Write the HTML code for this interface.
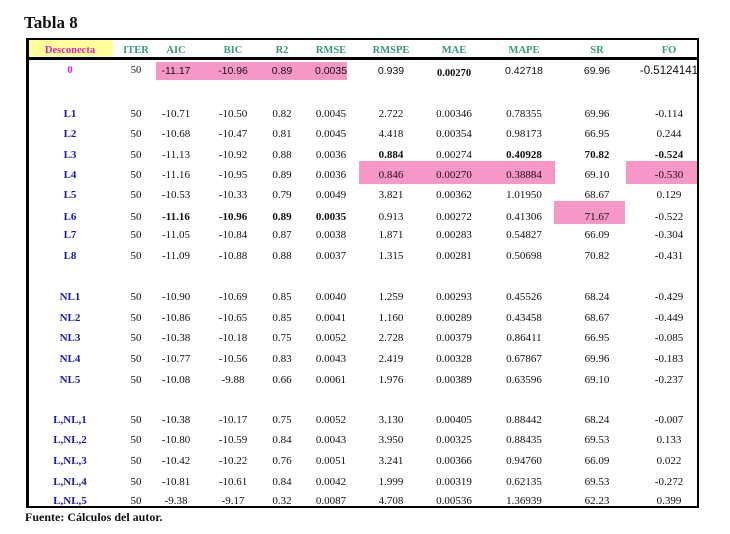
<!DOCTYPE html>
<html><head><meta charset="utf-8"><style>
body{margin:0;background:#fff;width:730px;height:534px;position:relative;overflow:hidden;font-family:"Liberation Serif",serif;font-size:11px;color:#111}
.a{position:absolute}
.r{position:absolute;left:0;width:730px;height:14px;line-height:14px}
.r span{position:absolute;width:80px;text-align:center}
.c0{left:30px;color:#1a1ab0;font-weight:bold}
.c1{left:96px}.c2{left:136px}.c3{left:193px}.c4{left:242px}.c5{left:291px}.c6{left:351px}.c7{left:414px}.c8{left:484px}.c9{left:557px}.c10{left:629px}
.b{font-weight:bold}
.pk{position:absolute;background:#f598c8}
.h span{color:#3a9a7a;font-weight:bold;font-size:10.5px}
</style></head><body>
<div class="a" style="left:24px;top:13px;font-size:17px;font-weight:bold;">Tabla 8</div>
<div class="a" style="left:29px;top:40px;width:84px;height:17px;background:#ffff99"></div>
<div class="a" style="left:26px;top:38px;width:673px;height:2px;background:#000"></div>
<div class="a" style="left:26px;top:57px;width:673px;height:3px;background:#000"></div>
<div class="a" style="left:26px;top:38px;width:3px;height:470px;background:#000"></div>
<div class="a" style="left:697px;top:38px;width:2px;height:470px;background:#000"></div>
<div class="a" style="left:26px;top:506px;width:673px;height:2px;background:#000"></div>
<div class="pk" style="left:156px;top:62px;width:191px;height:18px"></div>
<div class="pk" style="left:359px;top:161px;width:196px;height:23px"></div>
<div class="pk" style="left:626px;top:161px;width:71px;height:23px"></div>
<div class="pk" style="left:554px;top:201px;width:71px;height:23px"></div>
<div class="r h" style="top:44px"><span class="c0" style="color:#e020c0">Desconecta</span><span class="c1">ITER</span><span class="c2">AIC</span><span class="c3">BIC</span><span class="c4">R2</span><span class="c5">RMSE</span><span class="c6">RMSPE</span><span class="c7">MAE</span><span class="c8">MAPE</span><span class="c9">SR</span><span class="c10">FO</span></div>
<div class="r" style="top:64px;font-family:'Liberation Sans',sans-serif;font-size:10.5px"><span class="c0" style="color:#e020c0;font-family:'Liberation Serif',serif">0</span><span class="c1" style="font-family:'Liberation Serif',serif">50</span><span class="c2">-11.17</span><span class="c3">-10.96</span><span class="c4">0.89</span><span class="c5">0.0035</span><span class="c6">0.939</span><span class="c7 b" style="top:3px;font-family:'Liberation Serif',serif">0.00270</span><span class="c8">0.42718</span><span class="c9">69.96</span><span class="c10" style="font-size:11.5px">-0.5124141</span></div>
<div class="r" style="top:107px"><span class="c0">L1</span><span class="c1">50</span><span class="c2">-10.71</span><span class="c3">-10.50</span><span class="c4">0.82</span><span class="c5">0.0045</span><span class="c6">2.722</span><span class="c7">0.00346</span><span class="c8">0.78355</span><span class="c9">69.96</span><span class="c10">-0.114</span></div>
<div class="r" style="top:127px"><span class="c0">L2</span><span class="c1">50</span><span class="c2">-10.68</span><span class="c3">-10.47</span><span class="c4">0.81</span><span class="c5">0.0045</span><span class="c6">4.418</span><span class="c7">0.00354</span><span class="c8">0.98173</span><span class="c9">66.95</span><span class="c10">0.244</span></div>
<div class="r" style="top:148px"><span class="c0">L3</span><span class="c1">50</span><span class="c2">-11.13</span><span class="c3">-10.92</span><span class="c4">0.88</span><span class="c5">0.0036</span><span class="c6 b">0.884</span><span class="c7">0.00274</span><span class="c8 b">0.40928</span><span class="c9 b">70.82</span><span class="c10 b">-0.524</span></div>
<div class="r" style="top:168px"><span class="c0">L4</span><span class="c1">50</span><span class="c2">-11.16</span><span class="c3">-10.95</span><span class="c4">0.89</span><span class="c5">0.0036</span><span class="c6">0.846</span><span class="c7">0.00270</span><span class="c8">0.38884</span><span class="c9">69.10</span><span class="c10">-0.530</span></div>
<div class="r" style="top:188px"><span class="c0">L5</span><span class="c1">50</span><span class="c2">-10.53</span><span class="c3">-10.33</span><span class="c4">0.79</span><span class="c5">0.0049</span><span class="c6">3.821</span><span class="c7">0.00362</span><span class="c8">1.01950</span><span class="c9">68.67</span><span class="c10">0.129</span></div>
<div class="r" style="top:210px"><span class="c0">L6</span><span class="c1">50</span><span class="c2 b">-11.16</span><span class="c3 b">-10.96</span><span class="c4 b">0.89</span><span class="c5 b">0.0035</span><span class="c6">0.913</span><span class="c7">0.00272</span><span class="c8">0.41306</span><span class="c9">71.67</span><span class="c10">-0.522</span></div>
<div class="r" style="top:228px"><span class="c0">L7</span><span class="c1">50</span><span class="c2">-11.05</span><span class="c3">-10.84</span><span class="c4">0.87</span><span class="c5">0.0038</span><span class="c6">1.871</span><span class="c7">0.00283</span><span class="c8">0.54827</span><span class="c9">66.09</span><span class="c10">-0.304</span></div>
<div class="r" style="top:249px"><span class="c0">L8</span><span class="c1">50</span><span class="c2">-11.09</span><span class="c3">-10.88</span><span class="c4">0.88</span><span class="c5">0.0037</span><span class="c6">1.315</span><span class="c7">0.00281</span><span class="c8">0.50698</span><span class="c9">70.82</span><span class="c10">-0.431</span></div>
<div class="r" style="top:290px"><span class="c0">NL1</span><span class="c1">50</span><span class="c2">-10.90</span><span class="c3">-10.69</span><span class="c4">0.85</span><span class="c5">0.0040</span><span class="c6">1.259</span><span class="c7">0.00293</span><span class="c8">0.45526</span><span class="c9">68.24</span><span class="c10">-0.429</span></div>
<div class="r" style="top:311px"><span class="c0">NL2</span><span class="c1">50</span><span class="c2">-10.86</span><span class="c3">-10.65</span><span class="c4">0.85</span><span class="c5">0.0041</span><span class="c6">1.160</span><span class="c7">0.00289</span><span class="c8">0.43458</span><span class="c9">68.67</span><span class="c10">-0.449</span></div>
<div class="r" style="top:331px"><span class="c0">NL3</span><span class="c1">50</span><span class="c2">-10.38</span><span class="c3">-10.18</span><span class="c4">0.75</span><span class="c5">0.0052</span><span class="c6">2.728</span><span class="c7">0.00379</span><span class="c8">0.86411</span><span class="c9">66.95</span><span class="c10">-0.085</span></div>
<div class="r" style="top:352px"><span class="c0">NL4</span><span class="c1">50</span><span class="c2">-10.77</span><span class="c3">-10.56</span><span class="c4">0.83</span><span class="c5">0.0043</span><span class="c6">2.419</span><span class="c7">0.00328</span><span class="c8">0.67867</span><span class="c9">69.96</span><span class="c10">-0.183</span></div>
<div class="r" style="top:373px"><span class="c0">NL5</span><span class="c1">50</span><span class="c2">-10.08</span><span class="c3">-9.88</span><span class="c4">0.66</span><span class="c5">0.0061</span><span class="c6">1.976</span><span class="c7">0.00389</span><span class="c8">0.63596</span><span class="c9">69.10</span><span class="c10">-0.237</span></div>
<div class="r" style="top:413px"><span class="c0">L,NL,1</span><span class="c1">50</span><span class="c2">-10.38</span><span class="c3">-10.17</span><span class="c4">0.75</span><span class="c5">0.0052</span><span class="c6">3.130</span><span class="c7">0.00405</span><span class="c8">0.88442</span><span class="c9">68.24</span><span class="c10">-0.007</span></div>
<div class="r" style="top:433px"><span class="c0">L,NL,2</span><span class="c1">50</span><span class="c2">-10.80</span><span class="c3">-10.59</span><span class="c4">0.84</span><span class="c5">0.0043</span><span class="c6">3.950</span><span class="c7">0.00325</span><span class="c8">0.88435</span><span class="c9">69.53</span><span class="c10">0.133</span></div>
<div class="r" style="top:454px"><span class="c0">L,NL,3</span><span class="c1">50</span><span class="c2">-10.42</span><span class="c3">-10.22</span><span class="c4">0.76</span><span class="c5">0.0051</span><span class="c6">3.241</span><span class="c7">0.00366</span><span class="c8">0.94760</span><span class="c9">66.09</span><span class="c10">0.022</span></div>
<div class="r" style="top:475px"><span class="c0">L,NL,4</span><span class="c1">50</span><span class="c2">-10.81</span><span class="c3">-10.61</span><span class="c4">0.84</span><span class="c5">0.0042</span><span class="c6">1.999</span><span class="c7">0.00319</span><span class="c8">0.62135</span><span class="c9">69.53</span><span class="c10">-0.272</span></div>
<div class="r" style="top:494px"><span class="c0">L,NL,5</span><span class="c1">50</span><span class="c2">-9.38</span><span class="c3">-9.17</span><span class="c4">0.32</span><span class="c5">0.0087</span><span class="c6">4.708</span><span class="c7">0.00536</span><span class="c8">1.36939</span><span class="c9">62.23</span><span class="c10">0.399</span></div>
<div class="a" style="left:25px;top:510px;font-size:12px;font-weight:bold;">Fuente: Cálculos del autor.</div>
</body></html>
